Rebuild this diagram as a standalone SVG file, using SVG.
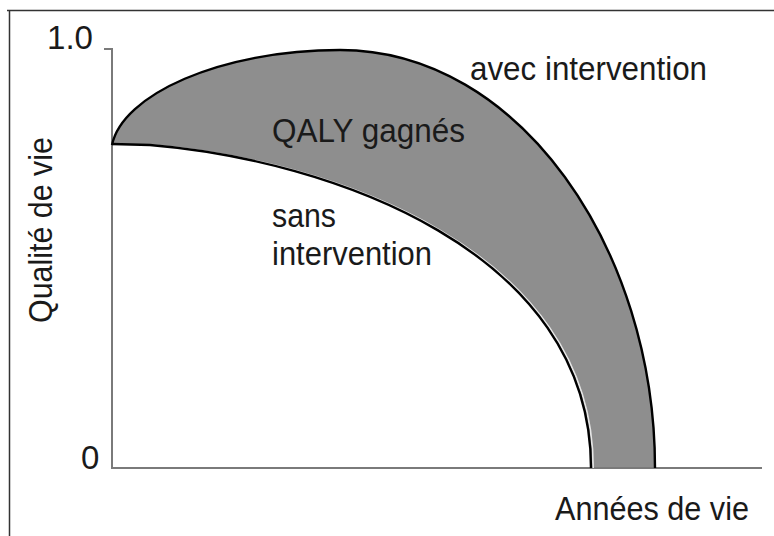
<svg xmlns="http://www.w3.org/2000/svg" width="774" height="536" viewBox="0 0 774 536">
<style>
.t{font-family:"Liberation Sans",Arial,sans-serif;font-size:33px;fill:#1a1a1a}
.frame{stroke:#333;stroke-width:1.5;fill:none}
.axis{stroke:#7a7a7a;stroke-width:2;fill:none}
.curve{stroke:#000;stroke-width:2.4;fill:none;stroke-linejoin:round}
</style>
<rect width="774" height="536" fill="#fff"/>
<g id="frame">
<path class="frame" d="M7,10.5 H774 M9.5,10 V536"/>
</g>
<g id="area">
<path d="M112,145 C122,95 220,50 340,50 C520,50 655,250 655,468 L591,468 C591,250 330,160 150,145 L112,144 Z" fill="#8e8e8e"/>
</g>
<g id="axes">
<path class="axis" d="M104,49 H112 V468 H762"/>
</g>
<g id="curves">
<path id="avec" class="curve" d="M112,145 C122,95 220,50 340,50 C520,50 655,250 655,468"/>
<path d="M150,145 C330,160 591,250 591,468" fill="none" stroke="#e6e6e6" stroke-width="1.6" transform="translate(2.2,0)"/>
<path id="sans" class="curve" d="M112,144 L150,145 C330,160 591,250 591,468"/>
</g>
<g id="labels">
<text class="t" x="47" y="49" textLength="46" lengthAdjust="spacingAndGlyphs">1.0</text>
<text class="t" x="81" y="469">0</text>
<text class="t" x="470" y="80" textLength="237" lengthAdjust="spacingAndGlyphs">avec intervention</text>
<text class="t" x="272" y="142" textLength="193" lengthAdjust="spacingAndGlyphs">QALY gagnés</text>
<text class="t" x="272" y="227" textLength="64" lengthAdjust="spacingAndGlyphs">sans</text>
<text class="t" x="272" y="265" textLength="160" lengthAdjust="spacingAndGlyphs">intervention</text>
<text class="t" x="555" y="520" textLength="194" lengthAdjust="spacingAndGlyphs">Années de vie</text>
<text class="t" transform="translate(51.5,323) rotate(-90)" x="0" y="0" textLength="186" lengthAdjust="spacingAndGlyphs">Qualité de vie</text>
</g>
</svg>
